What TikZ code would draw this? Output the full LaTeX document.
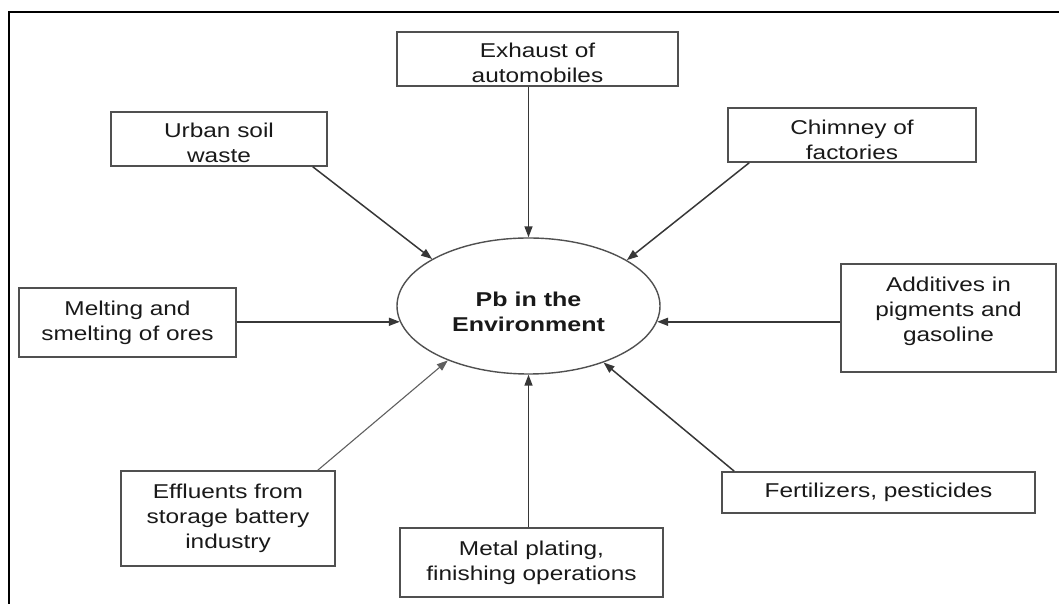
\documentclass[tikz,border=0pt]{standalone}
\usepackage{fontspec}
\setmainfont{Liberation Sans}[FakeStretch=1.22]
\newfontfamily\hubfont{Liberation Sans Bold}[FakeStretch=1.25]
\usetikzlibrary{arrows.meta,shapes.geometric}
\definecolor{boxline}{RGB}{80,80,80}
\definecolor{arrline}{RGB}{55,55,55}
\definecolor{thinline}{RGB}{95,95,95}
\definecolor{txt}{RGB}{25,25,25}
\begin{document}
\begin{tikzpicture}[x=1pt,y=1pt,
  srcbox/.style={draw=boxline, line width=1.6pt, rectangle, inner sep=0pt, align=center, text=txt, font=\fontsize{20}{25}\selectfont},
  hub/.style={draw=boxline, line width=1.4pt, ellipse, minimum width=263pt, minimum height=136pt, inner sep=0pt, align=center, text=txt, font=\hubfont\fontsize{20}{25}\selectfont},
  feed/.style={draw=arrline, line width=1.5pt, -{Triangle[length=11pt,width=8pt]}},
  thinfeed/.style={feed, draw=thinline, line width=1.1pt},
  frame/.style={draw=black, line width=2.5pt}]
\useasboundingbox (0,0) rectangle (1059,604);
\draw[frame] (1059,592) -- (9,592) -- (9,0);

\node[srcbox, minimum width=216pt, minimum height=54pt] (urban) at (219,465) {\rule{0pt}{23pt}Urban soil\\waste};
\node[srcbox, minimum width=281pt, minimum height=54pt] (exhaust) at (537.5,545) {\rule{0pt}{23pt}Exhaust of\\automobiles};
\node[srcbox, minimum width=248pt, minimum height=54pt] (chimney) at (852,469) {\rule{0pt}{25pt}Chimney of\\factories};
\node[srcbox, minimum width=215pt, minimum height=108pt] (additives) at (948.5,286) {Additives in\\pigments and\\gasoline\rule[-18pt]{0pt}{18pt}};
\node[srcbox, minimum width=217pt, minimum height=69pt] (melting) at (127.5,281.5) {Melting and\\smelting of ores};
\node[srcbox, minimum width=214pt, minimum height=95pt] (effluents) at (228,85.5) {Effluents from\\storage battery\\industry};
\node[srcbox, minimum width=263pt, minimum height=69pt] (metal) at (531.5,41.5) {Metal plating,\\finishing operations};
\node[srcbox, minimum width=313pt, minimum height=41pt] (fert) at (878.5,111.5) {Fertilizers, pesticides};
\node[hub] (pb) at (528.5,298) {\rule{0pt}{27pt}Pb in the\\Environment};

\draw[feed] ([xshift=-15pt]urban.south east) -- (pb.154.7);
\draw[feed] (exhaust.south -| pb.north) -- (pb.north);
\draw[feed] ([xshift=22pt]chimney.south west) -- (pb.25.6);
\draw[feed] (additives.west |- pb.-7) -- (pb.-7);
\draw[feed] (melting.east |- pb.187) -- (pb.187);
\draw[thinfeed] ([xshift=-18pt]effluents.north east) -- (pb.214.3);
\draw[feed] (metal.north -| pb.south) -- (pb.south);
\draw[feed] ([xshift=13pt]fert.north west) -- (pb.-37.8);
\end{tikzpicture}
\end{document}
